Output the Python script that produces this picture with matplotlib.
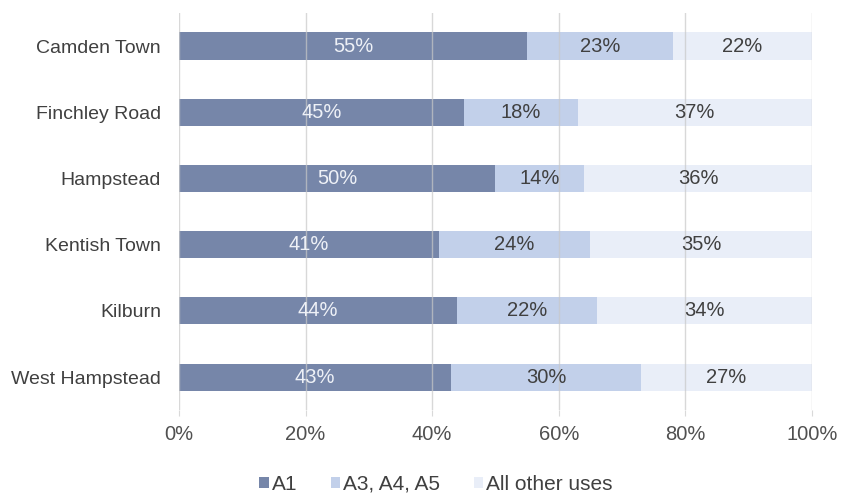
import matplotlib.pyplot as plt
import numpy as np

plt.rcParams['font.family'] = ['Liberation Sans', 'DejaVu Sans']

areas = ["Camden Town", "Finchley Road", "Hampstead", "Kentish Town", "Kilburn", "West Hampstead"]
a1 = [55, 45, 50, 41, 44, 43]
a345 = [23, 18, 14, 24, 22, 30]
other = [22, 37, 36, 35, 34, 27]
series_names = ["A1", "A3, A4, A5", "All other uses"]
xticks = [0, 20, 40, 60, 80, 100]

colors = ["#7686a9", "#c2d0ea", "#e9eef8"]
text_colors = ["#eef1f7", "#404040", "#404040"]

fig = plt.figure(figsize=(8.41, 4.96), dpi=100)
ax = fig.add_axes([0.2128, 0.173, 0.7527, 0.801])

y = np.arange(len(areas))
left = np.zeros(len(areas))
for vals, name, c, tc in zip([a1, a345, other], series_names, colors, text_colors):
    vals = np.array(vals, dtype=float)
    ax.barh(y, vals, left=left, height=0.41, color=c, label=name, zorder=2)
    for yi, l, v in zip(y, left, vals):
        ax.text(l + v / 2, yi, f"{int(v)}%", ha="center", va="center",
                fontsize=14.5, color=tc, zorder=4)
    left += vals

ax.set_xlim(0, 100)
ax.set_ylim(len(areas) - 0.5, -0.5)
ax.set_yticks(y)
ax.set_yticklabels(areas, fontsize=14, color="#404040")
ax.set_xticks(xticks)
ax.set_xticklabels([f"{t}%" for t in xticks], fontsize=14.5, color="#505050")
ax.tick_params(axis="y", length=0, pad=13)
ax.tick_params(axis="x", length=4, color="#d9d9d9", pad=7)
ax.xaxis.grid(True, color="#c8c8c8", linewidth=1, alpha=0.7, zorder=3)
ax.set_axisbelow(False)
for s in ax.spines.values():
    s.set_visible(False)

ax.legend(loc="center", bbox_to_anchor=(0.406, -0.186), ncol=3, frameon=False,
          fontsize=15, handlelength=0.45, handleheight=0.45, handletextpad=0.15,
          columnspacing=1.6, labelcolor="#404040")

fig.savefig("out.png", dpi=100)
